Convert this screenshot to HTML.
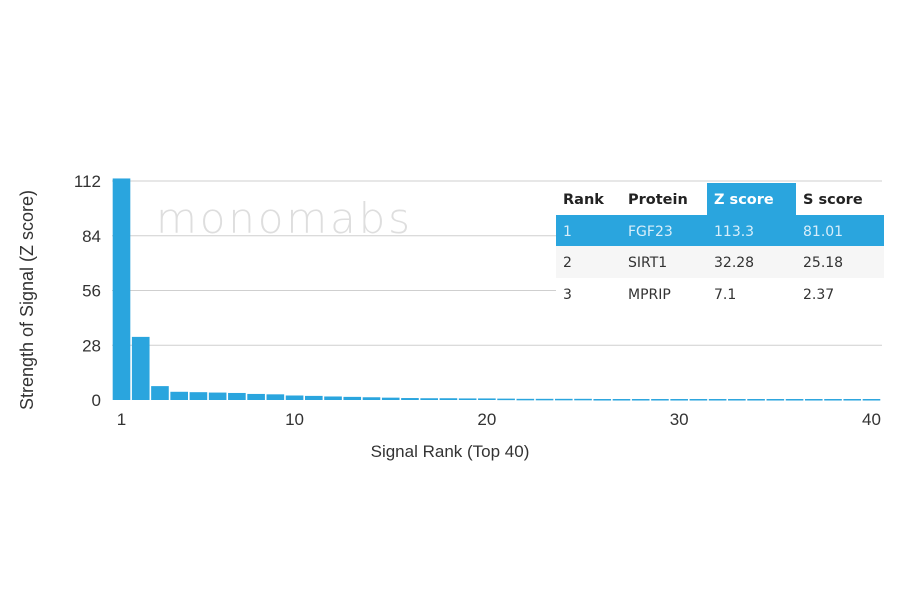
<!DOCTYPE html>
<html><head><meta charset="utf-8">
<style>
html,body{margin:0;padding:0;background:#fff;}
body{width:900px;height:594px;overflow:hidden;position:relative;font-family:"Liberation Sans",sans-serif;}
svg{position:absolute;left:0;top:0;}
</style></head>
<body>
<svg id="chart" width="900" height="594" viewBox="0 0 900 594"></svg>
<script>
const ranks = Array.from({length:40},(_,i)=>i+1);
const zValues = [113.3,32.28,7.1,4.2,4.0,3.8,3.6,3.1,2.9,2.3,2.1,1.8,1.6,1.4,1.2,1.0,0.9,0.9,0.8,0.8,0.7,0.6,0.6,0.6,0.6,0.5,0.5,0.5,0.5,0.5,0.5,0.5,0.5,0.5,0.5,0.5,0.5,0.5,0.5,0.5];
const yTicks = [0,28,56,84,112];
const xTicks = [1,10,20,30,40];
const tableHeader = ["Rank","Protein","Z score","S score"];
const tableRows = [["1","FGF23","113.3","81.01"],["2","SIRT1","32.28","25.18"],["3","MPRIP","7.1","2.37"]];

const NS="http://www.w3.org/2000/svg";
const svg=document.getElementById('chart');
const y0=400, yTop=181, plotL=112, plotR=882;
const yScale=v=>y0-(v/112)*(y0-yTop);
const step=19.23;
const xCenter=r=>121.5+(r-1)*step;
function mk(tag,attrs,parent){const e=document.createElementNS(NS,tag);for(const k in attrs)e.setAttribute(k,attrs[k]);(parent||svg).appendChild(e);return e;}

yTicks.forEach(t=>{
  if(t>0){const l=mk('line',{x1:plotL,x2:plotR,y1:yScale(t),y2:yScale(t),stroke:'#cfcfcf','stroke-width':1});
  
  }
  const tx=mk('text',{x:101,y:yScale(t)+6,'text-anchor':'end','font-size':17,fill:'#333'});
  tx.textContent=t;
  
  
});

const wm=mk('text',{x:156,y:233,'font-size':42,fill:'#dedede','font-family':'DejaVu Sans, sans-serif','font-weight':200,'letter-spacing':4,'textLength':258});
wm.textContent='monomabs';



ranks.forEach((r,i)=>{
  const v=zValues[i];
  const top=yScale(v);
  const b=mk('rect',{x:xCenter(r)-step/2+0.8,y:top,width:step-1.6,height:Math.max(y0-top,1.5),fill:'#2aa5de'});
  
  
});

xTicks.forEach(t=>{
  const tx=mk('text',{x:xCenter(t),y:425,'text-anchor':'middle','font-size':17,fill:'#333'});
  tx.textContent=t;
  
  
});

const xt=mk('text',{x:450,y:457,'text-anchor':'middle','font-size':17,fill:'#333'});
xt.textContent='Signal Rank (Top 40)';


const yt=mk('text',{x:0,y:0,'text-anchor':'middle','font-size':18,fill:'#333',transform:'translate(33,300) rotate(-90)'});
yt.textContent='Strength of Signal (Z score)';



const tg=mk('g',{});


const tL=556,tR=884,colX=[563,628,714,803],rowY=[183,215,246,278,310];
mk('rect',{x:tL,y:183,width:tR-tL,height:127,fill:'#fff'},tg);
mk('rect',{x:707,y:183,width:89,height:32,fill:'#2aa5de'},tg);
mk('rect',{x:tL,y:215,width:tR-tL,height:31,fill:'#2aa5de'},tg);
mk('rect',{x:tL,y:246,width:tR-tL,height:32,fill:'#f6f6f6'},tg);
tableHeader.forEach((h,c)=>{
  const tx=mk('text',{x:colX[c],y:204,'font-size':14.5,'font-weight':'bold',fill:c==2?'#fff':'#222','font-family':'DejaVu Sans, sans-serif'},tg);
  tx.textContent=h;
  
  
});
tableRows.forEach((row,ri)=>{
  row.forEach((cell,c)=>{
    const tx=mk('text',{x:colX[c],y:rowY[ri+1]+21,'font-size':14,fill:ri==0?'#d8eefa':'#333','font-family':'DejaVu Sans, sans-serif'},tg);
    tx.textContent=cell;
    
    
  });
});
</script>
</body></html>
